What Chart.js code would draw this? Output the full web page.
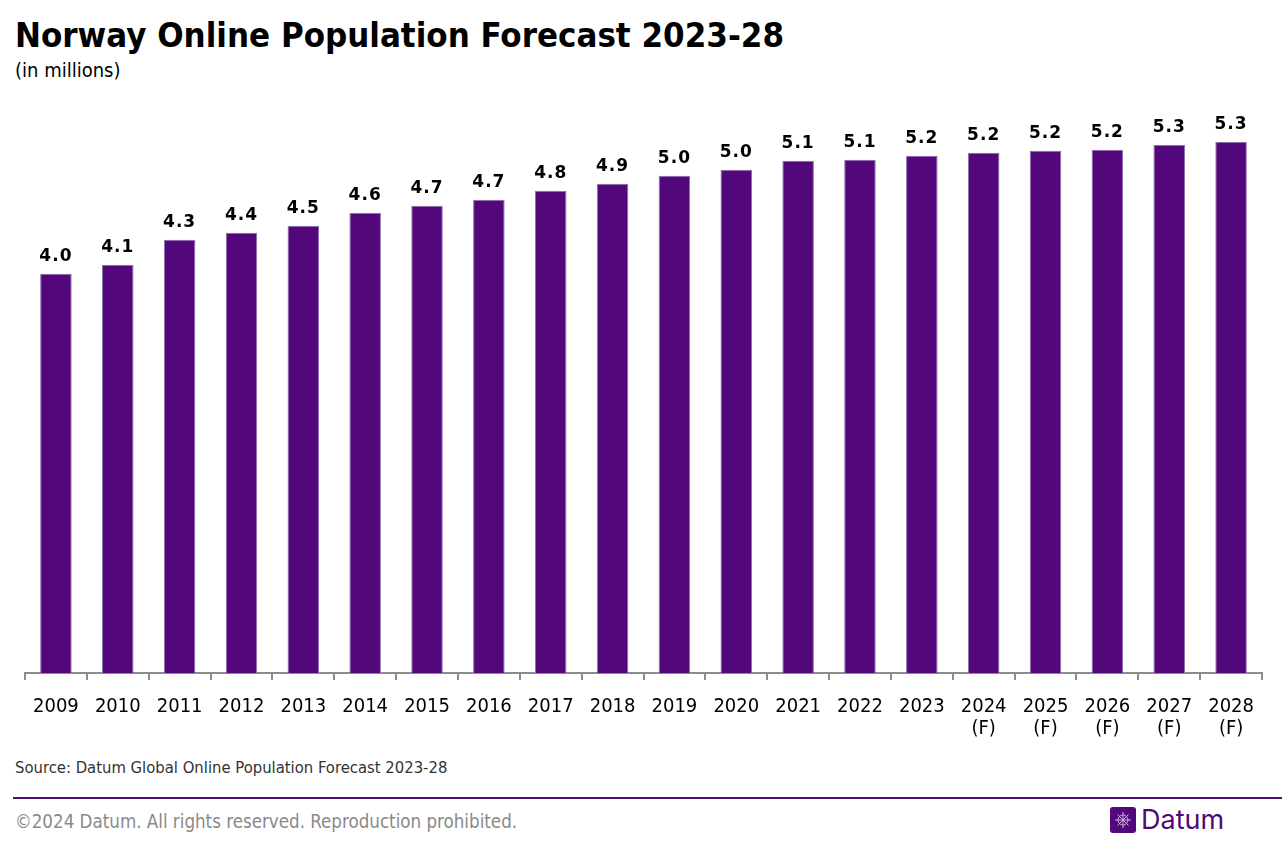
<!DOCTYPE html>
<html>
<head>
<meta charset="utf-8">
<script src="https://cdn.jsdelivr.net/npm/chart.js@4.4.1/dist/chart.umd.min.js"></script>
<style>
  body { margin: 0; width: 1282px; height: 852px; background: #fff; position: relative; overflow: hidden; font-family: "DejaVu Sans Condensed", "DejaVu Sans", sans-serif; }
  #title { position: absolute; left: 15px; top: 15px; font-size: 34.5px; font-weight: bold; color: #000; white-space: nowrap; }
  #subtitle { position: absolute; left: 15px; top: 58px; font-size: 20px; color: #000; }
  #chartBox { position: absolute; left: 0; top: 0; width: 1282px; height: 756px; }
  #source { position: absolute; left: 15px; top: 758px; font-size: 16.5px; color: #333; white-space: nowrap; }
  #rule { position: absolute; left: 13px; right: 0; top: 797px; height: 2px; background: #4f0a74; }
  #copy { position: absolute; left: 15px; top: 811px; font-size: 18.6px; color: #8a8a8a; white-space: nowrap; }
  #logo { position: absolute; left: 1110px; top: 807px; width: 26px; height: 26px; }
  #brand { position: absolute; left: 1141px; top: 803px; font-size: 27px; color: #4f0a74; font-family: "Inter", "DejaVu Sans", sans-serif; }
</style>
</head>
<body>
<div id="title">Norway Online Population Forecast 2023-28</div>
<div id="subtitle">(in millions)</div>
<div id="chartBox"><canvas id="chart"></canvas></div>
<div id="source">Source: Datum Global Online Population Forecast 2023-28</div>
<div id="rule"></div>
<div id="copy">©2024 Datum. All rights reserved. Reproduction prohibited.</div>
<svg id="logo" viewBox="0 0 26 26">
  <rect x="0" y="0" width="26" height="26" rx="3" fill="#52077a"/>
  <g stroke="#c9b3dd" stroke-width="1" fill="none">
    <circle cx="13" cy="13" r="5"/>
    <line x1="13" y1="5" x2="13" y2="21"/>
    <line x1="5" y1="13" x2="21" y2="13"/>
    <line x1="7.5" y1="7.5" x2="18.5" y2="18.5"/>
    <line x1="18.5" y1="7.5" x2="7.5" y2="18.5"/>
  </g>
</svg>
<div id="brand">Datum</div>
<script>
// years along the axis, forecast years get a second line
const years = ["2009", "2010", "2011", "2012", "2013", "2014", "2015", "2016", "2017", "2018",
  "2019", "2020", "2021", "2022", "2023", "2024", "2025", "2026", "2027", "2028"];
const forecastFrom = "2024";
// online population, millions
const population = [4.00, 4.09, 4.34, 4.41, 4.48, 4.61, 4.68, 4.74, 4.83, 4.90,
  4.98, 5.04, 5.13, 5.14, 5.18, 5.21, 5.23, 5.24, 5.29, 5.32];

const labels = years.map((y) => (y >= forecastFrom ? [y, "(F)"] : y));

// numbers above the bars
const valueLabels = {
  id: "valueLabels",
  afterDatasetsDraw(chart) {
    const ctx = chart.ctx;
    const meta = chart.getDatasetMeta(0);
    ctx.save();
    ctx.font = "bold 17px 'DejaVu Sans', sans-serif";
    ctx.fillStyle = "#000";
    ctx.textAlign = "center";
    ctx.textBaseline = "alphabetic";
    if ("letterSpacing" in ctx) ctx.letterSpacing = "1px";
    meta.data.forEach((bar, i) => {
      ctx.fillText(population[i].toFixed(1), bar.x, bar.y - 13);
    });
    ctx.restore();
  },
};

const ctx = document.getElementById("chart").getContext("2d");
new Chart(ctx, {
  type: "bar",
  data: {
    labels: labels,
    datasets: [
      {
        data: population,
        backgroundColor: "#52077a",
        borderColor: "#8d6fae",
        borderWidth: 1,
        barPercentage: 0.51,
        categoryPercentage: 1,
      },
    ],
  },
  options: {
    responsive: true,
    maintainAspectRatio: false,
    animation: false,
    layout: { padding: { left: 25, right: 20, top: 74, bottom: 0 } },
    plugins: {
      legend: { display: false },
      tooltip: { enabled: false },
    },
    scales: {
      x: {
        grid: {
          display: true,
          drawOnChartArea: false,
          color: "#8c8c8c",
          lineWidth: 2,
          tickLength: 7,
        },
        border: { display: true, color: "#8c8c8c", width: 2 },
        ticks: {
          color: "#000",
          font: { size: 20, family: "'DejaVu Sans Condensed', 'DejaVu Sans', sans-serif", lineHeight: 1.1 },
          maxRotation: 0,
          autoSkip: false,
          padding: 16,
        },
      },
      y: {
        display: false,
        min: 0,
        max: 6,
      },
    },
  },
  plugins: [valueLabels],
});
</script>
</body>
</html>
